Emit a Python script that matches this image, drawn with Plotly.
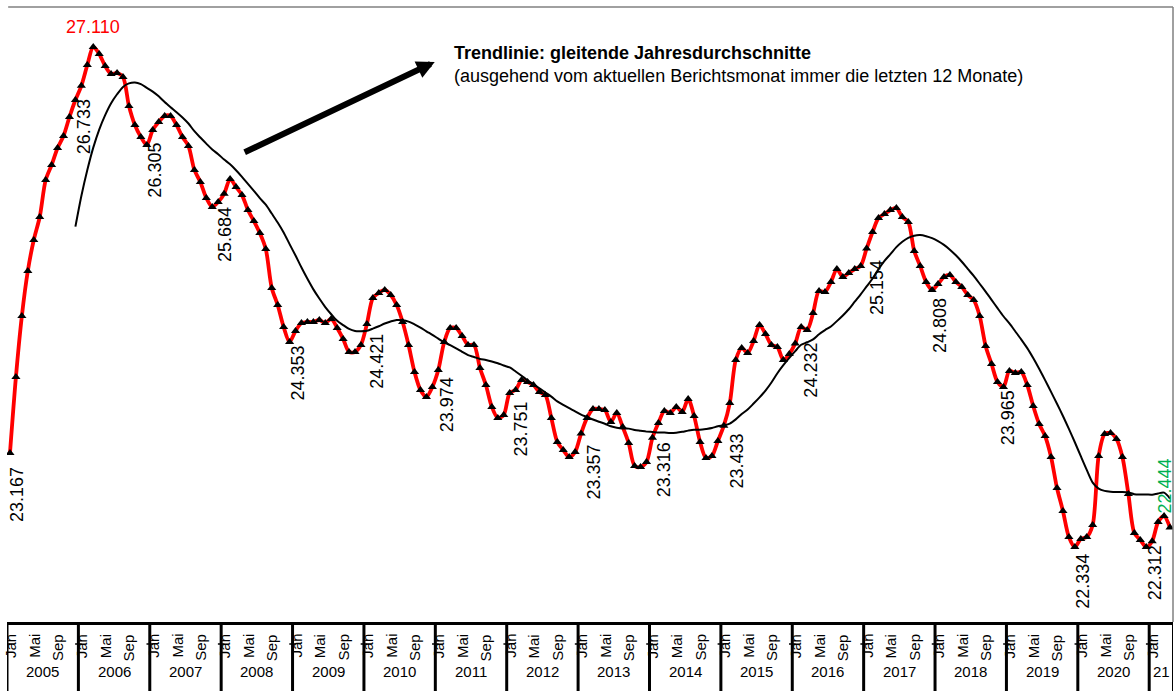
import plotly.graph_objects as go

# ---------------- data (monthly values, Jan 2005 - Apr 2021) ----------------
month_names = ["Jan", "Feb", "Mär", "Apr", "Mai", "Jun", "Jul", "Aug", "Sep", "Okt", "Nov", "Dez"]
years = list(range(2005, 2022))

v2005 = [23167, 23906, 24498, 24935, 25236, 25459, 25818, 25964, 26129, 26246, 26430, 26595]
v2006 = [26733, 26935, 27110, 27042, 26925, 26848, 26857, 26818, 26537, 26352, 26236, 26158]
v2007 = [26305, 26382, 26440, 26440, 26352, 26236, 26149, 25916, 25799, 25644, 25556, 25605]
v2008 = [25684, 25828, 25751, 25673, 25527, 25420, 25304, 25149, 24770, 24605, 24391, 24246]
v2009 = [24353, 24430, 24440, 24440, 24459, 24430, 24469, 24382, 24275, 24149, 24149, 24217]
v2010 = [24421, 24673, 24721, 24751, 24702, 24605, 24440, 24217, 23954, 23780, 23712, 23809]
v2011 = [23974, 24246, 24382, 24382, 24304, 24217, 24217, 23993, 23828, 23615, 23508, 23537]
v2012 = [23751, 23780, 23877, 23857, 23828, 23760, 23731, 23508, 23275, 23197, 23129, 23178]
v2013 = [23357, 23508, 23595, 23595, 23585, 23469, 23556, 23420, 23265, 23042, 23032, 23081]
v2014 = [23316, 23459, 23576, 23556, 23615, 23566, 23692, 23527, 23275, 23119, 23139, 23284]
v2015 = [23433, 23653, 24071, 24187, 24139, 24255, 24411, 24323, 24217, 24197, 24071, 24129]
v2016 = [24232, 24391, 24362, 24527, 24741, 24731, 24828, 24954, 24877, 24916, 24954, 24984]
v2017 = [25154, 25314, 25450, 25488, 25527, 25547, 25459, 25411, 25129, 24984, 24828, 24751]
v2018 = [24808, 24877, 24896, 24828, 24780, 24702, 24653, 24498, 24207, 24032, 23857, 23809]
v2019 = [23965, 23945, 23954, 23828, 23624, 23450, 23333, 23129, 22828, 22605, 22352, 22255]
v2020 = [22334, 22352, 22469, 23139, 23352, 23362, 23304, 23129, 22770, 22391, 22323, 22255]
v2021 = [22312, 22498, 22556, 22444]

values = (v2005 + v2006 + v2007 + v2008 + v2009 + v2010 + v2011 + v2012 + v2013
          + v2014 + v2015 + v2016 + v2017 + v2018 + v2019 + v2020 + v2021)
months = [f"{m} {y}" for y in years for m in month_names][:len(values)]

# Trendlinie: gleitender Jahresdurchschnitt (letzte 12 Monate), as stated on the chart
trend = [sum(values[i - 11:i + 1]) / 12 for i in range(11, len(values))]
trend_x = months[11:]

tick_months = ["Jan", "Mai", "Sep"]
year_labels = [str(y) for y in years[:-1]] + ["21"]


def de(v):
    return f"{v:,}".replace(",", ".")


# ---------------- layout constants (pixels) ----------------
W, H = 1175, 691
ML, MR, MT, MB = 7, 2, 7, 69
PH = H - MT - MB
FONT = "Liberation Sans, Arial, Helvetica, sans-serif"
N = len(values)


def py(pix):  # pixel row -> paper y
    return (H - MB - pix) / PH


fig = go.Figure()
fig.add_trace(go.Scatter(x=months, y=values, mode="lines",
                         line=dict(color="#FF0000", width=3.8, shape="spline", smoothing=0.8),
                         hoverinfo="skip"))
fig.add_trace(go.Scatter(x=trend_x, y=trend, mode="lines",
                         line=dict(color="black", width=2, shape="spline", smoothing=0.8)))
fig.add_trace(go.Scatter(x=months, y=values, mode="markers",
                         marker=dict(symbol="triangle-up", size=8, color="black")))

shapes = []
# frame
shapes.append(dict(type="line", xref="paper", yref="paper", x0=0.001, x1=1, y0=1, y1=1,
                   line=dict(color="#808080", width=1.5)))
shapes.append(dict(type="line", xref="paper", yref="paper", x0=1, x1=1, y0=0, y1=1,
                   line=dict(color="#808080", width=1.5)))
# axis table
shapes.append(dict(type="line", xref="paper", yref="paper", x0=0, x1=1, y0=py(623.5), y1=py(623.5),
                   line=dict(color="black", width=3)))
seps = [12 * k - 0.5 for k in range(len(years))] + [N - 0.5]
for s in seps:
    shapes.append(dict(type="line", xref="x", yref="paper", x0=s, x1=s, y0=py(622), y1=py(691),
                       line=dict(color="black", width=3 if s < N - 1 else 2)))
    if s < N - 1:
        shapes.append(dict(type="line", xref="x", yref="paper", x0=s - 0.55, x1=s + 0.55,
                           y0=py(644), y1=py(644), line=dict(color="black", width=1.5)))

annotations = []
# month tick labels
for k, y in enumerate(years):
    for j, m in enumerate(tick_months):
        idx = 12 * k + 4 * j
        if idx >= N:
            continue
        annotations.append(dict(x=idx, y=py(632), xref="x", yref="paper", text=m,
                                textangle=-90, showarrow=False, yanchor="top",
                                font=dict(family=FONT, size=15, color="black")))
# year labels
for k, lab in enumerate(year_labels):
    start = 12 * k
    end = min(12 * k + 11, N - 1)
    annotations.append(dict(x=(start + end) / 2, y=py(682), xref="x", yref="paper", text=lab,
                            showarrow=False, font=dict(family=FONT, size=15, color="black")))

# January value labels (offsets in px from the point: right, down)
jan_offsets = [(7, 41), (2, 41), (2, 40), (1, 41), (2, 42), (10, 37), (9, 35), (11, 36), (12, 39),
               (11, 32), (13, 35), (16, 27), (11, 39), (2, 42), (-2, 47), (2, 42), (3, 32)]
for k, (dx, dy) in enumerate(jan_offsets):
    idx = 12 * k
    annotations.append(dict(x=months[idx], y=values[idx], text=de(values[idx]), textangle=-90,
                            showarrow=False, xshift=dx, yshift=-dy,
                            font=dict(family=FONT, size=18, color="black")))
# maximum (red)
imax = values.index(max(values))
annotations.append(dict(x=months[imax], y=values[imax], text=de(values[imax]), showarrow=False,
                        yshift=20, font=dict(family=FONT, size=18, color="#FF0000")))
# latest value (green)
annotations.append(dict(x=months[-1], y=values[-1], text=de(values[-1]), textangle=-90,
                        showarrow=False, xshift=-5, yshift=41,
                        font=dict(family=FONT, size=18, color="#00B050")))

# arrow + explanatory text
annotations.append(dict(x=71.4, y=26964, ax=39.2, ay=26081, xref="x", yref="y", axref="x", ayref="y",
                        text="", showarrow=True, arrowhead=2, arrowsize=0.6, arrowwidth=6,
                        arrowcolor="black"))
annotations.append(dict(x=(452 - ML) / (W - ML - MR), y=py(53), xref="paper", yref="paper",
                        xanchor="left", yanchor="middle", showarrow=False,
                        text="<b>Trendlinie: gleitende Jahresdurchschnitte</b>",
                        font=dict(family=FONT, size=18, color="black")))
annotations.append(dict(x=(452 - ML) / (W - ML - MR), y=py(76), xref="paper", yref="paper",
                        xanchor="left", yanchor="middle", showarrow=False,
                        text="(ausgehend vom aktuellen Berichtsmonat immer die letzten 12 Monate)",
                        font=dict(family=FONT, size=18, color="black")))

fig.update_layout(
    width=W, height=H, margin=dict(l=ML, r=MR, t=MT, b=MB),
    paper_bgcolor="white", plot_bgcolor="white", showlegend=False,
    xaxis=dict(type="category", range=[-0.5, N - 0.5], showgrid=False, zeroline=False,
               showticklabels=False, ticks="", showline=False),
    yaxis=dict(range=[21527, 27498], showgrid=False, zeroline=False, showticklabels=False,
               ticks="", showline=False),
    shapes=shapes, annotations=annotations,
)

fig.write_html("out.html", config={"displayModeBar": False},
               post_script="document.body.style.margin='0px';document.body.style.overflow='hidden';")
